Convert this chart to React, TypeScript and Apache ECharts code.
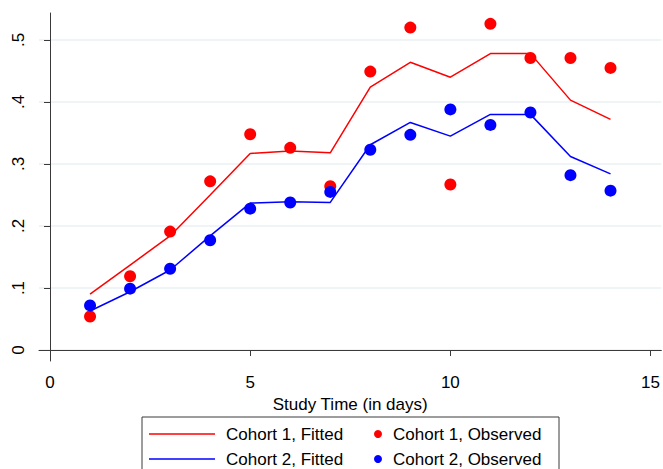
import React, { useEffect, useRef } from "react";
import * as echarts from "echarts";

const days = [1, 2, 3, 4, 5, 6, 7, 8, 9, 10, 11, 12, 13, 14];
const cohort1Observed = [0.054, 0.119, 0.191, 0.272, 0.348, 0.326, 0.264, 0.449, 0.52, 0.267, 0.526, 0.471, 0.471, 0.455];
const cohort2Observed = [0.072, 0.099, 0.131, 0.177, 0.228, 0.238, 0.255, 0.323, 0.347, 0.388, 0.363, 0.383, 0.282, 0.257];
const cohort1Fitted = [0.09, 0.137, 0.184, 0.25, 0.317, 0.321, 0.318, 0.424, 0.464, 0.44, 0.478, 0.478, 0.403, 0.372];
const cohort2Fitted = [0.063, 0.094, 0.129, 0.184, 0.237, 0.239, 0.238, 0.331, 0.367, 0.345, 0.38, 0.38, 0.312, 0.284];
const xTicks = [0, 5, 10, 15];
const yTicks = [0, 0.1, 0.2, 0.3, 0.4, 0.5];
const names = ["Cohort 1, Fitted", "Cohort 1, Observed", "Cohort 2, Fitted", "Cohort 2, Observed"];
const xTitle = "Study Time (in days)";

const RED = "#ff0000";
const BLUE = "#0000ff";
const FONT = "'Liberation Sans', Arial, sans-serif";
const FS = 17;

const pairs = (ys: number[]) => days.map((d, i) => [d, ys[i]]);

export default function App() {
  const ref = useRef<HTMLDivElement>(null);
  useEffect(() => {
    if (!ref.current) return;
    const chart = echarts.init(ref.current, null, { renderer: "svg" });
    const legendText = (x: number, y: number, t: string) => ({
      type: "text",
      x,
      y,
      style: { text: t, fill: "#000", font: `${FS}px ${FONT}`, verticalAlign: "middle", textAlign: "left" },
    });
    chart.setOption({
      animation: false,
      backgroundColor: "#fff",
      textStyle: { fontFamily: FONT },
      grid: { left: 39, right: 1, top: 13, bottom: 108, containLabel: false },
      xAxis: {
        type: "value",
        min: -0.275,
        max: 15.27,
        name: xTitle,
        nameLocation: "middle",
        nameGap: 29,
        nameTextStyle: { fontSize: FS, color: "#000", fontFamily: FONT, verticalAlign: "top" },
        axisLine: { show: true, lineStyle: { color: "#3a3a3a", width: 1 } },
        axisTick: { show: true, length: 6, customValues: xTicks, lineStyle: { color: "#3a3a3a" } },
        axisLabel: { customValues: xTicks, fontSize: FS, color: "#000", margin: 13, fontFamily: FONT },
        splitLine: { show: false },
      },
      yAxis: {
        type: "value",
        min: -0.0177,
        max: 0.5435,
        axisLine: { show: true, lineStyle: { color: "#3a3a3a", width: 1 } },
        axisTick: { show: true, length: 6, customValues: yTicks, lineStyle: { color: "#3a3a3a" } },
        axisLabel: {
          customValues: yTicks,
          rotate: 90,
          fontSize: FS,
          color: "#000",
          margin: 12,
          fontFamily: FONT,
          formatter: (v: number) => (Math.abs(v) < 1e-9 ? "0" : "." + Math.round(v * 10)),
        },
        splitLine: { show: true, lineStyle: { color: "#eaf2f3", width: 1.5 } },
      },
      series: [
        { name: names[0], type: "line", data: pairs(cohort1Fitted), showSymbol: false, symbol: "none", lineStyle: { color: RED, width: 1.5 }, itemStyle: { color: RED } },
        { name: names[2], type: "line", data: pairs(cohort2Fitted), showSymbol: false, symbol: "none", lineStyle: { color: BLUE, width: 1.5 }, itemStyle: { color: BLUE } },
        { name: names[1], type: "scatter", data: pairs(cohort1Observed), symbol: "circle", symbolSize: 12, itemStyle: { color: RED, opacity: 1 } },
        { name: names[3], type: "scatter", data: pairs(cohort2Observed), symbol: "circle", symbolSize: 12, itemStyle: { color: BLUE, opacity: 1 } },
      ],
      graphic: [
        { type: "rect", shape: { x: 142, y: 417, width: 417, height: 70 }, style: { fill: "#fff", stroke: "#3a3a3a", lineWidth: 1 } },
        { type: "line", shape: { x1: 149, y1: 434, x2: 215, y2: 434 }, style: { stroke: RED, lineWidth: 1.5 } },
        { type: "line", shape: { x1: 149, y1: 459, x2: 215, y2: 459 }, style: { stroke: BLUE, lineWidth: 1.5 } },
        { type: "circle", shape: { cx: 378, cy: 434, r: 4 }, style: { fill: RED } },
        { type: "circle", shape: { cx: 378, cy: 459, r: 4 }, style: { fill: BLUE } },
        legendText(226, 434, names[0]),
        legendText(226, 459, names[2]),
        legendText(393, 434, names[1]),
        legendText(393, 459, names[3]),
      ],
    });
    return () => chart.dispose();
  }, []);
  return <div ref={ref} style={{ position: "absolute", left: 0, top: 0, width: 663, height: 469 }} />;
}
